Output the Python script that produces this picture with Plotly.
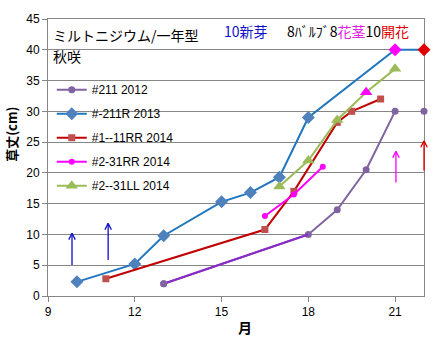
import plotly.graph_objects as go

# ---- data ----
months_211_2012 = [13, 18, 19, 20, 21, None, 22]
height_211_2012 = [2.0, 10.0, 14.0, 20.5, 30.0, None, 30.0]

months_211R_2013 = [10, 12, 13, 15, 16, 17, 18, 21, 22]
height_211R_2013 = [2.3, 5.2, 9.8, 15.3, 16.8, 19.3, 29.0, 40.0, 40.0]
stage_211R_2013 = ["", "", "", "", "", "", "", "花茎", "開花"]

months_1_11RR_2014 = [11, 16.5, 17.5, 19, 19.5, 20.5]
height_1_11RR_2014 = [2.8, 10.8, 17.0, 28.2, 30.0, 32.0]

months_2_31RR_2014 = [16.5, 17.5, 18.5]
height_2_31RR_2014 = [13.0, 16.5, 21.0]

months_2_31LL_2014 = [17, 18, 19, 20, 21]
height_2_31LL_2014 = [17.8, 22.0, 28.6, 33.1, 36.9]
stage_2_31LL_2014 = ["", "", "", "花茎", ""]

series_names = ["#211 2012", "#-211R 2013", "#1--11RR 2014", "#2-31RR 2014", "#2--31LL 2014"]
x_ticks = [9, 12, 15, 18, 21]
y_ticks = [0, 5, 10, 15, 20, 25, 30, 35, 40, 45]

# arrows: (month, tail height, tip height, colour)
arrows = [(9.83, 4.8, 10.2, "#1010C8"), (11.08, 5.6, 11.8, "#1010C8"),
          (21.03, 18.2, 23.5, "#FF00FF"), (22.0, 20.1, 25.2, "#E00000")]

stage_colors = {"": None, "花茎": "#FF00FF", "開花": "#E00000"}

GRID = "#868686"
FONT = "Liberation Sans"
JP = "Noto Sans CJK JP"
W, H = 440, 341
ML, MR, MT, MB = 48, 16, 15, 45
XR, YR = [9, 22], [0, 45]
px_x = (W - ML - MR) / (XR[1] - XR[0])
px_y = (H - MT - MB) / (YR[1] - YR[0])

fig = go.Figure()

# #211 2012
fig.add_trace(go.Scatter(x=months_211_2012, y=height_211_2012, name=series_names[0],
                         mode="lines+markers", legendgroup="a", cliponaxis=False,
                         line=dict(color="#8064A2", width=2),
                         marker=dict(symbol="circle", size=7, color="#8064A2")))
fig.add_trace(go.Scatter(x=months_211_2012[:2], y=height_211_2012[:2], mode="lines",
                         showlegend=False, legendgroup="a",
                         line=dict(color="#8A2BC8", width=2)))
fig.add_trace(go.Scatter(x=months_211_2012[:1], y=height_211_2012[:1], mode="markers",
                         showlegend=False, legendgroup="a",
                         marker=dict(symbol="circle", size=7, color="#8064A2")))

# #-211R 2013
c_blue = [stage_colors[s] or "#4F81BD" for s in stage_211R_2013]
fig.add_trace(go.Scatter(x=months_211R_2013, y=height_211R_2013, name=series_names[1],
                         mode="lines+markers", legendgroup="b", cliponaxis=False,
                         line=dict(color="#2177BE", width=2),
                         marker=dict(symbol="diamond", size=10, color=c_blue)))

# #1--11RR 2014
fig.add_trace(go.Scatter(x=months_1_11RR_2014, y=height_1_11RR_2014, name=series_names[2],
                         mode="lines+markers", legendgroup="c", cliponaxis=False,
                         line=dict(color="#C00000", width=2),
                         marker=dict(symbol="square", size=7, color="#C0504D")))

# #2-31RR 2014
fig.add_trace(go.Scatter(x=months_2_31RR_2014, y=height_2_31RR_2014, name=series_names[3],
                         mode="lines+markers", legendgroup="d", cliponaxis=False,
                         line=dict(color="#FF00FF", width=2),
                         marker=dict(symbol="circle", size=6, color="#FF00FF")))

# #2--31LL 2014
c_green = [stage_colors[s] or "#9BBB59" for s in stage_2_31LL_2014]
fig.add_trace(go.Scatter(x=months_2_31LL_2014, y=height_2_31LL_2014, name=series_names[4],
                         mode="lines+markers", legendgroup="e", cliponaxis=False,
                         line=dict(color="#9BBB59", width=2),
                         marker=dict(symbol="triangle-up", size=11, color=c_green)))

annotations = [
    dict(text="ミルトニジウム/一年型", xref="paper", yref="paper", x=0.008, y=0.943,
         xanchor="left", yanchor="middle", showarrow=False, font=dict(family=JP, size=14, color="#000")),
    dict(text="秋咲", xref="paper", yref="paper", x=0.008, y=0.868,
         xanchor="left", yanchor="middle", showarrow=False, font=dict(family=JP, size=14, color="#000")),
    dict(text="10新芽", xref="paper", yref="paper", x=0.463, y=0.955,
         xanchor="left", yanchor="middle", showarrow=False, font=dict(family=JP, size=14, color="#1010C8")),
    dict(text="8ﾊﾞﾙﾌﾞ8<span style='color:#E020E0'>花茎</span>10<span style='color:#E00000'>開花</span>",
         xref="paper", yref="paper", x=0.63, y=0.955,
         xanchor="left", yanchor="middle", showarrow=False, font=dict(family=JP, size=14, color="#000")),
    dict(text="<b>草丈(cm)</b>", xref="paper", yref="paper", x=-0.096, y=0.585, textangle=-90,
         xanchor="center", yanchor="middle", showarrow=False, font=dict(family=JP, size=13, color="#000")),
    dict(text="<b>月</b>", xref="paper", yref="paper", x=0.524, y=-0.112,
         xanchor="center", yanchor="middle", showarrow=False, font=dict(family=JP, size=14, color="#000")),
]

# arrows (open V heads) as arrow-line annotations, not clipped at the plot edge
hw, hh = 4 / px_x, 8 / px_y
for (ax, y0, y1, col) in arrows:
    for (tx, ty) in [(ax, y0), (ax - hw, y1 - hh), (ax + hw, y1 - hh)]:
        annotations.append(dict(text="", x=ax, y=y1, xref="x", yref="y",
                                ax=tx, ay=ty, axref="x", ayref="y",
                                showarrow=True, arrowhead=0, arrowwidth=1.3, arrowcolor=col,
                                standoff=0, startstandoff=0))

fig.update_layout(
    width=W, height=H,
    margin=dict(l=ML, r=MR, t=MT, b=MB),
    paper_bgcolor="white", plot_bgcolor="white",
    annotations=annotations,
    legend=dict(x=0.01, y=0.797, xanchor="left", yanchor="top", bgcolor="rgba(0,0,0,0)",
                font=dict(family=FONT, size=12, color="#000"), tracegroupgap=5,
                traceorder="grouped", itemwidth=30),
    xaxis=dict(range=XR, tickvals=x_ticks, showgrid=False, zeroline=False,
               showline=True, linecolor=GRID, linewidth=1, mirror=True, layer="below traces",
               ticks="outside", ticklen=5, tickcolor=GRID,
               tickfont=dict(family=FONT, size=12, color="#000")),
    yaxis=dict(range=YR, tickvals=y_ticks, showgrid=True, gridcolor=GRID, gridwidth=1,
               zeroline=False, showline=True, linecolor=GRID, linewidth=1, mirror=True,
               layer="below traces",
               ticks="outside", ticklen=5, tickcolor=GRID,
               tickfont=dict(family=FONT, size=12, color="#000")),
)

fig.write_html("out.html")
